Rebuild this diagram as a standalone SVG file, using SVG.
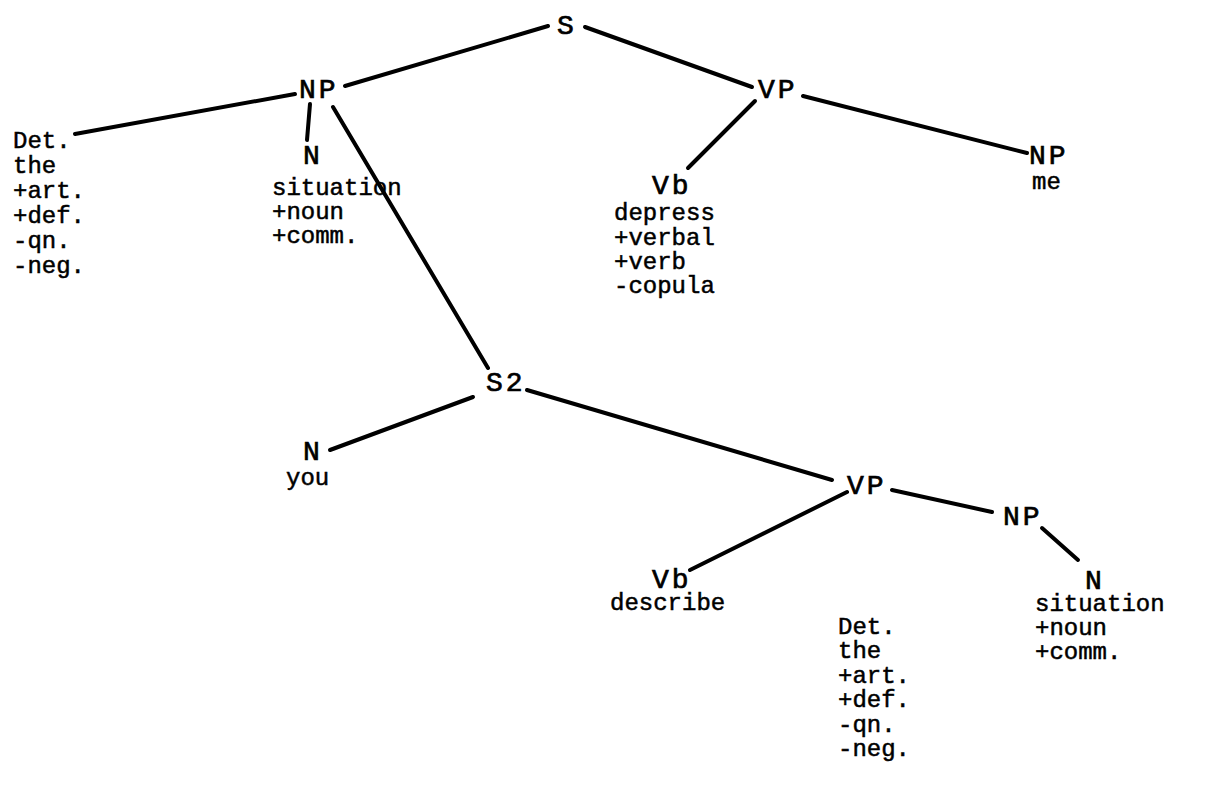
<svg xmlns="http://www.w3.org/2000/svg" width="1221" height="791" viewBox="0 0 1221 791">
<style>
text{font-family:"Liberation Mono","DejaVu Sans Mono",monospace;font-size:24px;fill:#000;stroke:#000;stroke-width:0.5px}
.lbl{font-size:28px;letter-spacing:3px;stroke-width:0.7px}
.edge{stroke:#000;stroke-width:4;stroke-linecap:round;fill:none}
</style>
<rect width="1221" height="791" fill="#fff"/>
<g id="connectors">
<line class="edge" x1="548" y1="26" x2="345" y2="86"/>
<line class="edge" x1="585" y1="27" x2="752" y2="87"/>
<line class="edge" x1="295" y1="94" x2="75" y2="134"/>
<line class="edge" x1="310" y1="104" x2="307" y2="140"/>
<line class="edge" x1="333" y1="107" x2="488" y2="368"/>
<line class="edge" x1="755" y1="101" x2="688" y2="168"/>
<line class="edge" x1="803" y1="96" x2="1027" y2="153"/>
<line class="edge" x1="473" y1="397" x2="330" y2="450"/>
<line class="edge" x1="527" y1="390" x2="832" y2="480"/>
<line class="edge" x1="847" y1="492" x2="690" y2="570"/>
<line class="edge" x1="892" y1="490" x2="992" y2="512"/>
<line class="edge" x1="1042" y1="528" x2="1078" y2="560"/>
</g>
<g id="S"><text class="lbl" x="557" y="34">S</text></g>
<g id="NP1"><text class="lbl" x="299" y="98">NP</text></g>
<g id="VP1"><text class="lbl" x="758" y="98">VP</text></g>
<g id="Det1"><text><tspan x="13" y="148">Det.</tspan><tspan x="13" y="173">the</tspan><tspan x="13" y="198">+art.</tspan><tspan x="13" y="223">+def.</tspan><tspan x="13" y="248">-qn.</tspan><tspan x="13" y="273">-neg.</tspan></text></g>
<g id="N1"><text><tspan class="lbl" x="303" y="164">N</tspan><tspan x="272" y="195">situation</tspan><tspan x="272" y="219">+noun</tspan><tspan x="272" y="243">+comm.</tspan></text></g>
<g id="Vb1"><text><tspan class="lbl" x="652" y="194">Vb</tspan><tspan x="614" y="220">depress</tspan><tspan x="614" y="245">+verbal</tspan><tspan x="614" y="269">+verb</tspan><tspan x="614" y="293">-copula</tspan></text></g>
<g id="NP2"><text><tspan class="lbl" x="1029" y="164">NP</tspan><tspan x="1032" y="189">me</tspan></text></g>
<g id="S2"><text class="lbl" x="486" y="391">S2</text></g>
<g id="N2"><text><tspan class="lbl" x="303" y="460">N</tspan><tspan x="286" y="485">you</tspan></text></g>
<g id="VP2"><text class="lbl" x="847" y="494">VP</text></g>
<g id="NP3"><text class="lbl" x="1003" y="525">NP</text></g>
<g id="Vb2"><text><tspan class="lbl" x="652" y="588">Vb</tspan><tspan x="610" y="610">describe</tspan></text></g>
<g id="Det2"><text><tspan x="838" y="634">Det.</tspan><tspan x="838" y="658">the</tspan><tspan x="838" y="683">+art.</tspan><tspan x="838" y="707">+def.</tspan><tspan x="838" y="732">-qn.</tspan><tspan x="838" y="756">-neg.</tspan></text></g>
<g id="N3"><text><tspan class="lbl" x="1085" y="589">N</tspan><tspan x="1035" y="611">situation</tspan><tspan x="1035" y="635">+noun</tspan><tspan x="1035" y="659">+comm.</tspan></text></g>
</svg>
